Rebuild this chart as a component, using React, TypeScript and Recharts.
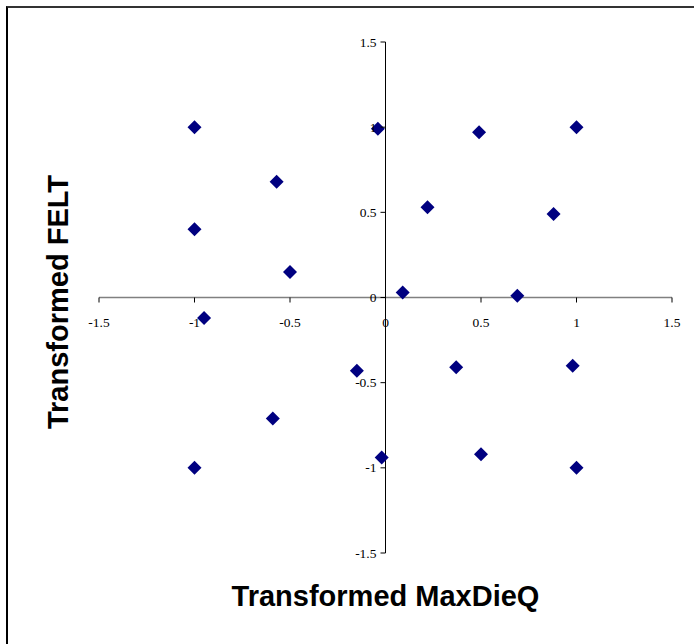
import React from 'react'
import { ScatterChart, Scatter, XAxis, YAxis, ReferenceLine } from 'recharts'

// values
const maxDieQ = [-1, -0.04, 0.49, 1, -0.57, 0.22, 0.88, -1, -0.5, 0.09, 0.69, -0.95, -0.15, 0.37, 0.98, -0.59, -0.02, 0.5, -1, 1]
const felt = [1, 0.99, 0.97, 1, 0.68, 0.53, 0.49, 0.4, 0.15, 0.03, 0.01, -0.12, -0.43, -0.41, -0.4, -0.71, -0.94, -0.92, -1, -1]
const axisTicks = [-1.5, -1, -0.5, 0, 0.5, 1, 1.5]

const data = maxDieQ.map((x, i) => ({ x, y: felt[i] }))

const W = 694
const H = 644
const margin = { top: 42, right: 22, bottom: 71, left: 79 }
const axisH = 20
const axisW = 20
const plotLeft = margin.left + axisW
const plotBottom = H - margin.bottom - axisH
const zeroX = plotLeft + (W - plotLeft - margin.right) / 2
const zeroY = margin.top + (plotBottom - margin.top) / 2

const tickFont = { fontFamily: '"Liberation Serif", "Times New Roman", serif', fontSize: 13.5, fill: '#000' }

const renderXTick = (props: any) => {
  const { x, payload } = props
  return (
    <g key={`xt-${payload.value}`}>
      <line x1={x} x2={x} y1={zeroY} y2={zeroY + 5} stroke="#000" />
      <text x={x} y={zeroY + 29} textAnchor="middle" {...tickFont}>{String(payload.value)}</text>
    </g>
  )
}

const renderYTick = (props: any) => {
  const { y, payload } = props
  return (
    <g key={`yt-${payload.value}`}>
      <line x1={zeroX - 5} x2={zeroX} y1={y} y2={y} stroke="#000" />
      <text x={zeroX - 9} y={y + 4.5} textAnchor="end" {...tickFont}>{String(payload.value)}</text>
    </g>
  )
}

const Diamond = (props: any) => {
  const { cx, cy } = props
  const r = 7
  return <polygon points={`${cx},${cy - r} ${cx + r},${cy} ${cx},${cy + r} ${cx - r},${cy}`} fill="#000080" />
}

const titleStyle: React.CSSProperties = {
  position: 'absolute',
  fontFamily: '"Liberation Sans", Arial, sans-serif',
  fontWeight: 'bold',
  fontSize: 29,
  whiteSpace: 'nowrap',
  color: '#000',
}

export default function App() {
  return (
    <div style={{ position: 'absolute', left: 0, top: 0, width: W, height: H, overflow: 'hidden', background: '#fff' }}>
      <div style={{ position: 'absolute', left: 6, top: 6, width: 800, height: 800, borderTop: '2px solid #333', borderLeft: '2px solid #000' }} />
      <div style={{ position: 'absolute', left: 0, top: 0 }}>
        <ScatterChart width={W} height={H} margin={margin}>
          <XAxis type="number" dataKey="x" domain={[-1.5, 1.5]} ticks={axisTicks} interval={0}
            axisLine={false} tickLine={false} height={axisH} tick={renderXTick} />
          <YAxis type="number" dataKey="y" domain={[-1.5, 1.5]} ticks={axisTicks} interval={0}
            axisLine={false} tickLine={false} width={axisW} tick={renderYTick} />
          <ReferenceLine y={0} stroke="#808080" strokeWidth={1.5} />
          <ReferenceLine x={0} stroke="#000" strokeWidth={1} />
          <Scatter data={data} shape={<Diamond />} isAnimationActive={false} />
        </ScatterChart>
      </div>
      <div style={{ ...titleStyle, left: zeroX, top: 580, transform: 'translateX(-50%)' }}>Transformed MaxDieQ</div>
      <div style={{ ...titleStyle, left: 58, top: 302, transform: 'translate(-50%, -50%) rotate(-90deg)' }}>Transformed FELT</div>
    </div>
  )
}
